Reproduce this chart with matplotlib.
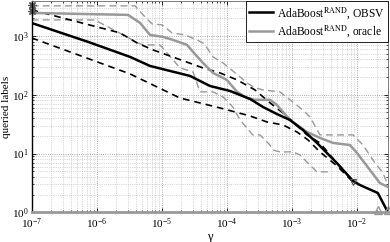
import matplotlib
matplotlib.use("Agg")
import matplotlib.pyplot as plt
from matplotlib.ticker import LogLocator, NullFormatter

# ---------------------------------------------------------------------------
# Data (gamma on x, queried labels on y)
# ---------------------------------------------------------------------------

obsv_x = [1e-7, 7.4e-7, 3.26e-6, 6.6e-6, 1.34e-5, 2.72e-5, 5.52e-5, 1.12e-4, 2.27e-4,
          3.6e-4, 5.9e-4, 9.35e-4, 1.48e-3, 2.43e-3, 4.93e-3, 8.7e-3, 1.11e-2, 2.1e-2, 3.0e-2]
obsv_y = [1660, 791, 440, 309, 254, 209, 141, 116, 85,
          62, 47, 37.3, 25.2, 15.2, 6.9, 3.43, 2.93, 2.14, 1.0]

obsv_hi_x = [1e-7, 2.29e-6, 4.18e-6, 7.35e-6, 1.78e-5, 4.3e-5, 7.87e-5, 1.44e-4, 2.71e-4,
             4.61e-4, 7.3e-4, 1.04e-3, 1.71e-3, 2.7e-3, 4.93e-3, 8.7e-3]
obsv_hi_y = [2770, 1125, 760, 578, 407, 286, 235, 179, 121,
             73, 49, 34.5, 20.8, 15.2, 6.9, 3.43]

obsv_lo_x = [1e-7, 5.56e-7, 3.26e-6, 1.91e-5, 3.87e-5, 7.87e-5, 2.27e-4, 4.15e-4, 7.3e-4,
             1.2e-3, 1.77e-3, 2.7e-3, 4.93e-3, 8.7e-3]
obsv_lo_y = [925, 463, 226, 88, 72.6, 59.7, 43.7, 34.5, 30.7,
             23.3, 17.1, 10.7, 6.2, 3.3]

oracle_x = [1e-7, 3.03e-6, 4.65e-6, 6.6e-6, 1.05e-5, 1.49e-5, 2.45e-5, 3.03e-5, 4.3e-5,
            6.14e-5, 1.0e-4, 1.44e-4, 2.04e-4, 2.71e-4, 4.61e-4, 5.9e-4, 9.35e-4, 1.71e-3,
            2.7e-3, 4.28e-3, 7.8e-3, 1.0e-2, 1.58e-2, 2.25e-2, 3.0e-2]
oracle_y = [2460, 2275, 1663, 1040, 962, 855, 703, 535, 348,
            235, 179, 112, 88, 82, 82, 67, 37.3, 23.3,
            18.5, 15.2, 14.0, 10.3, 5.3, 3.17, 2.71]

oracle_hi_x = [1e-7, 3.89e-6, 5.53e-6, 7.1e-6, 1.01e-5, 1.44e-5, 2.28e-5, 3.48e-5, 4.3e-5,
               4.97e-5, 6.14e-5, 8.75e-5, 1.6e-4, 2.04e-4, 2.71e-4, 3.6e-4, 6.56e-4, 9.35e-4,
               1.48e-3, 1.9e-3, 2.7e-3, 8.7e-3, 1.24e-2, 1.76e-2, 2.51e-2, 3.0e-2]
oracle_hi_y = [3240, 3240, 2105, 1600, 1540, 1125, 1040, 855, 760,
               625, 440, 348, 201, 159, 131, 121, 112, 82,
               55, 42, 20.8, 20.8, 14.0, 7.8, 4.7, 2.9]

oracle_lo_x = [1e-7, 9.4e-7, 4.33e-6, 5.16e-6, 9.4e-6, 1.91e-5, 3.03e-5, 3.87e-5, 6.14e-5,
               8.75e-5, 1.24e-4, 1.6e-4, 2.5e-4, 3.24e-4, 4.61e-4, 5.13e-4, 6.56e-4, 1.04e-3,
               1.33e-3, 1.9e-3, 2.43e-3, 3.85e-3]
oracle_lo_y = [1870, 1870, 760, 703, 703, 286, 244, 112, 112,
               92, 62, 37.3, 20.8, 20.8, 14.0, 11.5, 10.7, 10.7,
               9.5, 6.4, 4.9, 4.9]

# markers: starting points clipped at top, zero-hits sitting on the x axis
star_x = [1e-7, 1e-7]
star_y = [3370, 2660]
tri_x = [2.1e-2, 3.0e-2]
tri_y = [1.12, 1.12]

GRAY = "#999999"

plt.rcParams.update({
    "font.family": "serif",
    "font.serif": ["Liberation Serif", "DejaVu Serif"],
    "mathtext.fontset": "stix",
    "font.size": 8,
    "xtick.direction": "in",
    "ytick.direction": "in",
    "xtick.top": True,
    "ytick.right": True,
})

fig = plt.figure(figsize=(3.9, 2.42), dpi=100)
ax = fig.add_axes([0.081, 0.122, 0.915, 0.872])

ax.plot(oracle_hi_x, oracle_hi_y, color=GRAY, lw=1.0, ls=(0, (5, 3)))
ax.plot(oracle_lo_x, oracle_lo_y, color=GRAY, lw=1.0, ls=(0, (5, 3)))
ax.plot(obsv_hi_x, obsv_hi_y, color="black", lw=1.2, ls=(0, (4, 3)))
ax.plot(obsv_lo_x, obsv_lo_y, color="black", lw=1.2, ls=(0, (4, 3)))
ax.plot(oracle_x, oracle_y, color=GRAY, lw=1.8, label=r"AdaBoost$^{\mathrm{RAND}}$, oracle")
ax.plot(obsv_x, obsv_y, color="black", lw=1.8, label=r"AdaBoost$^{\mathrm{RAND}}$, OBSV")

ax.plot(star_x, star_y, ls="none", marker=(8, 2, 0), ms=6, mec="0.35", mew=0.9,
        clip_on=False)
ax.plot([obsv_lo_x[-1]], [obsv_lo_y[-1]], ls="none", marker="v", ms=5, mfc="none",
        mec="0.3", mew=0.8)
ax.plot(tri_x, tri_y, ls="none", marker="^", ms=6, mfc="none", mec=GRAY, mew=1.0,
        clip_on=False)

ax.set_xscale("log")
ax.set_yscale("log")
ax.set_xlim(1e-7, 3.05e-2)
ax.set_ylim(1, 3850)

ax.xaxis.set_major_locator(LogLocator(base=10, numticks=12))
ax.yaxis.set_major_locator(LogLocator(base=10, numticks=12))
ax.xaxis.set_minor_locator(LogLocator(base=10, subs=range(2, 10), numticks=12))
ax.yaxis.set_minor_locator(LogLocator(base=10, subs=range(2, 10), numticks=12))
ax.xaxis.set_minor_formatter(NullFormatter())
ax.yaxis.set_minor_formatter(NullFormatter())

ax.grid(True, which="major", ls=":", color="0.55", lw=0.6)
ax.grid(True, which="minor", ls=":", color="0.7", lw=0.5)
ax.tick_params(which="major", length=3, width=0.6, labelsize=8, pad=3)
ax.tick_params(axis="y", which="major", pad=2)
ax.tick_params(which="minor", length=1.5, width=0.5)
for lbl in ax.get_yticklabels():
    lbl.set_verticalalignment("center_baseline")

ax.spines["bottom"].set_color(GRAY)
ax.spines["bottom"].set_linewidth(2.0)
for s in ("top", "right"):
    ax.spines[s].set_color("0.4")
    ax.spines[s].set_linewidth(0.6)
ax.spines["left"].set_linewidth(1.0)

ax.set_xlabel("γ", fontsize=9, labelpad=0)
ax.set_ylabel("queried labels", fontsize=8, labelpad=1)

handles, labels = ax.get_legend_handles_labels()
leg = ax.legend(handles[::-1], labels[::-1], loc="upper right", fontsize=8.3,
                frameon=True, fancybox=False, framealpha=1, edgecolor="black",
                handlelength=2.1, borderpad=0.3, labelspacing=0.2, borderaxespad=0.0,
                handletextpad=0.35)
leg.get_frame().set_linewidth(0.6)

fig.savefig("out.png", dpi=100)
